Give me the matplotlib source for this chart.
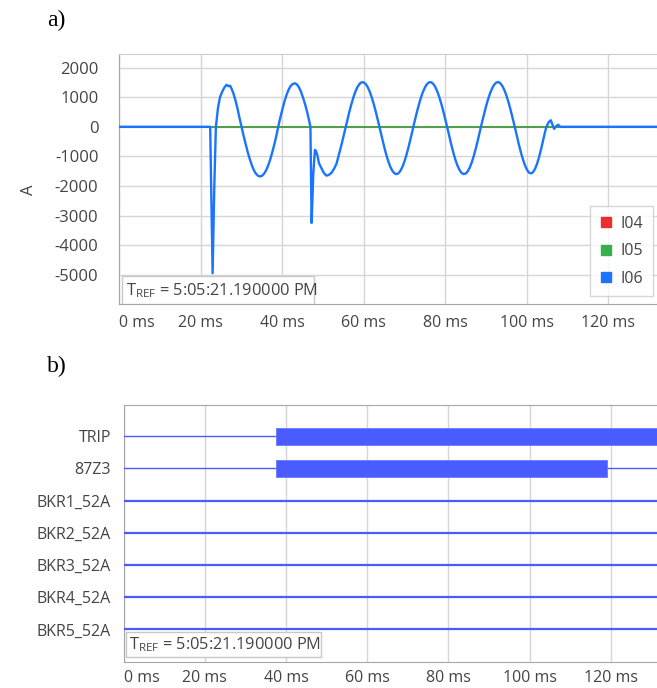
import matplotlib
matplotlib.use('Agg')
import matplotlib.pyplot as plt
from matplotlib.patches import Rectangle
from matplotlib.lines import Line2D

plt.rcParams['font.family'] = ['Open Sans', 'DejaVu Sans']
plt.rcParams['mathtext.fontset'] = 'custom'
plt.rcParams['mathtext.rm'] = 'Open Sans'

# ---------------- data ----------------
# analog trace I06 (A) vs time (ms)
time_ms = [0, 22.3, 22.9, 23.3, 23.7, 24.2, 24.7, 25.3, 25.8, 26.3, 26.8, 27.2, 27.6, 28.0,
           28.5, 29.0, 29.5, 30.0, 30.5, 31.0, 31.5, 32.0, 32.5, 33.0, 33.5, 34.0, 34.5,
           35.0, 35.5, 36.0, 36.5, 37.0, 37.5, 38.0, 38.5, 39.0, 39.5, 40.0, 40.5, 41.0,
           41.5, 42.0, 42.5, 43.1, 43.6, 44.1, 44.6, 45.1, 45.6, 46.1, 46.5, 46.9, 47.2,
           47.6, 48.0, 48.3, 48.6, 49.0, 49.6, 50.2, 50.8, 51.4, 52.1, 52.7, 53.3, 54.0,
           54.5, 55.0, 55.5, 56.0, 56.5, 57.0, 57.5, 58.0, 58.5, 59.0, 59.5, 60.0, 60.5,
           61.0, 61.5, 62.0, 62.5, 63.0, 63.5, 64.0, 64.5, 65.0, 65.5, 66.0, 66.5, 67.0,
           67.5, 68.0, 68.5, 69.0, 69.5, 70.0, 70.5, 71.0, 71.5, 72.0, 72.5, 73.0, 73.5,
           74.0, 74.5, 75.0, 75.5, 76.0, 76.5, 77.0, 77.5, 78.0, 78.5, 79.0, 79.5, 80.0,
           80.5, 81.0, 81.5, 82.0, 82.5, 83.0, 83.5, 84.0, 84.5, 85.0, 85.5, 86.0, 86.5,
           87.0, 87.5, 88.0, 88.5, 89.0, 89.5, 90.0, 90.5, 91.0, 91.5, 92.0, 92.5, 93.0,
           93.5, 94.0, 94.5, 95.0, 95.5, 96.0, 96.5, 97.0, 97.5, 98.0, 98.5, 99.0, 99.5,
           100.0, 100.5, 101.0, 101.5, 102.0, 102.5, 103.0, 103.5, 104.0, 104.4, 104.8,
           105.4, 105.9, 106.3, 106.7, 107.2, 107.7, 108.2, 132.2]
i06 = [0, 0, -4950, -2100, 0, 620, 1000, 1200, 1330, 1420, 1370, 1390, 1270, 1130,
       900, 620, 300, 0, -300, -580, -850, -1080, -1290, -1460, -1580, -1650, -1680,
       -1660, -1590, -1480, -1320, -1120, -880, -620, -330, 0, 300, 580, 840, 1060,
       1240, 1370, 1440, 1470, 1430, 1330, 1180, 980, 760, 500, 260, 0, -3250,
       -1600, -780, -830, -960, -1230, -1400, -1560, -1650, -1630, -1550, -1420, -1250, -885,
       -620, -330, -30, 255, 531, 787, 1016, 1208, 1357, 1457, 1506, 1500, 1441,
       1331, 1173, 973, 739, 477, 199, -92, -390, -676, -936, -1163, -1349, -1486,
       -1572, -1600, -1572, -1486, -1349, -1163, -936, -674, -390, -89, 199, 479, 739,
       974, 1173, 1332, 1442, 1501, 1506, 1457, 1357, 1208, 1016, 787, 531, 255,
       -30, -330, -620, -885, -1122, -1315, -1464, -1559, -1599, -1581, -1507, -1380, -1202,
       -982, -726, -446, -148, 145, 424, 690, 930, 1137, 1303, 1424, 1493, 1515,
       1471, 1380, 1240, 1057, 834, 583, 310, 26, -275, -565, -838, -1078, -1283,
       -1440, -1546, -1575, -1540, -1430, -1260, -1030, -760, -460, -220, 0,
       160, 220, 80, -70, 20, 70, 0, 0]
time_flat = [0, 132.2]
i04 = [0, 0]
i05 = [0, 0]
analog_names = ['I04', 'I05', 'I06']
analog_colors = ['#ee2c2c', '#35b04a', '#1a74ff']

x_ticks = [0, 20, 40, 60, 80, 100, 120]
x_labels = ['0 ms', '20 ms', '40 ms', '60 ms', '80 ms', '100 ms', '120 ms']
y_ticks = [2000, 1000, 0, -1000, -2000, -3000, -4000, -5000]

# digital channels: active intervals (start ms, end ms)
channels = ['TRIP', '87Z3', 'BKR1_52A', 'BKR2_52A', 'BKR3_52A', 'BKR4_52A', 'BKR5_52A']
active = [[(37.6, 131.6)], [(37.6, 119.0)], [], [], [], [], []]

tref_text = r'$\mathregular{T_{REF}}$ = 5:05:21.190000 PM'

# ---------------- figure ----------------
W, H = 657, 688
fig = plt.figure(figsize=(W / 100, H / 100), dpi=100)


def px_axes(left, top, right, bottom):
    return [left / W, 1 - bottom / H, (right - left) / W, (bottom - top) / H]


txt_color = '#444444'
grid_color = '#d6d6d6'
spine_color = '#a6a6a6'
fs = 11.5

# ---- (a) analog ----
ax1 = fig.add_axes(px_axes(119.3, 54.3, 658, 304.3))
ax1.plot(time_flat, i04, color=analog_colors[0], lw=1.2, zorder=3)
ax1.plot(time_flat, i05, color=analog_colors[1], lw=1.2, zorder=4)
ax1.plot(time_ms, i06, color=analog_colors[2], lw=1.7, zorder=5,
         solid_joinstyle='round')
ax1.set_xlim(0, 132.2)
ax1.set_ylim(-6000, 2450)
ax1.set_xticks(x_ticks)
ax1.set_xticklabels(x_labels)
ax1.set_yticks(y_ticks)
ax1.set_yticklabels([str(v) for v in y_ticks])
ax1.grid(True, color=grid_color, lw=1.0, zorder=0)
ax1.set_axisbelow(True)
ax1.tick_params(length=0, labelsize=fs, labelcolor=txt_color)
ax1.tick_params(axis='y', labelsize=12)
ax1.tick_params(axis='x', pad=8)
ax1.tick_params(axis='y', pad=15)
ax1.get_xticklabels()[0].set_horizontalalignment('left')
for s in ['left', 'bottom']:
    ax1.spines[s].set_color(spine_color)
for s in ['top', 'right']:
    ax1.spines[s].set_color('#cccccc')

handles = [Line2D([], [], marker='s', ls='none', color=c, markersize=6.5) for c in analog_colors]
leg = ax1.legend(handles, analog_names, loc='upper left', bbox_to_anchor=(0.8738, 0.393),
                 borderaxespad=0, fontsize=fs, frameon=True, fancybox=False,
                 handlelength=0.8, handletextpad=0.5, labelspacing=0.72,
                 borderpad=0.6, labelcolor=txt_color)
leg.get_frame().set_edgecolor('#cccccc')
leg.get_frame().set_linewidth(1.0)
leg.set_zorder(10)

ax1.add_patch(Rectangle((0.0045, 0.0), 0.357, 0.113, transform=ax1.transAxes,
                        facecolor='white', edgecolor='#c8c8c8', lw=1.0, zorder=8))
ax1.text(0.012, 0.056, tref_text, transform=ax1.transAxes, fontsize=11.8,
         color=txt_color, va='center', ha='left', zorder=9)

fig.text(29 / W, 1 - 190 / H, 'A', rotation=90, fontsize=12, color=txt_color,
         ha='center', va='center')
fig.text(56 / W, 1 - 20 / H, 'a)', fontsize=17, family='Liberation Serif',
         ha='center', va='center')
fig.text(56.5 / W, 1 - 366 / H, 'b)', fontsize=17, family='Liberation Serif',
         ha='center', va='center')

# ---- (b) digital ----
ax2 = fig.add_axes(px_axes(123.6, 404.7, 658, 661.7))
dig_color = '#4a5cff'
xmax2 = 131.6
for i, name in enumerate(channels):
    lw = 1.0 if active[i] else 1.6
    ax2.plot([0, xmax2], [i, i], color=dig_color, lw=lw, zorder=3)
    for (a, b) in active[i]:
        ax2.broken_barh([(a, b - a)], (i - 0.265, 0.53), facecolors=dig_color,
                        edgecolor='#6a78ff', lw=0.6, zorder=4)
ax2.set_xlim(0, xmax2)
ax2.set_ylim(7.0, -0.98)
ax2.set_xticks(x_ticks)
ax2.set_xticklabels(x_labels)
ax2.set_yticks(range(len(channels)))
ax2.set_yticklabels(channels)
ax2.grid(True, axis='x', color=grid_color, lw=1.0, zorder=0)
ax2.set_axisbelow(True)
ax2.tick_params(length=0, labelsize=fs, labelcolor=txt_color)
ax2.tick_params(axis='x', pad=6)
ax2.tick_params(axis='y', pad=9)
ax2.get_xticklabels()[0].set_horizontalalignment('left')
for s in ax2.spines.values():
    s.set_color(spine_color)

ax2.add_patch(Rectangle((0.0045, 0.017), 0.364, 0.100, transform=ax2.transAxes,
                        facecolor='white', edgecolor='#c8c8c8', lw=1.0, zorder=8))
ax2.text(0.011, 0.067, tref_text, transform=ax2.transAxes, fontsize=11.8,
         color=txt_color, va='center', ha='left', zorder=9)

fig.savefig('out.png', dpi=100)
